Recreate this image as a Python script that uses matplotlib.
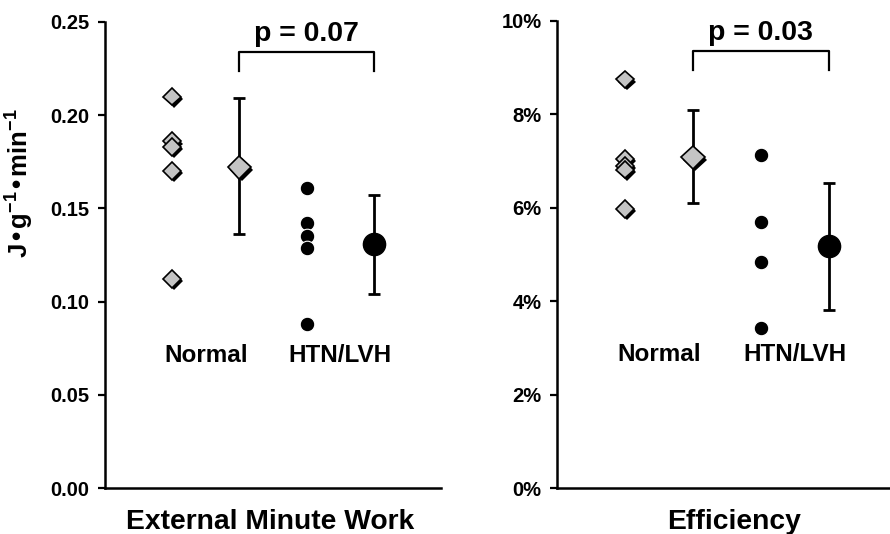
import matplotlib
matplotlib.use("Agg")
import matplotlib.pyplot as plt
import matplotlib.patheffects as pe
from matplotlib.ticker import PercentFormatter, MultipleLocator

plt.rcParams["font.family"] = ["Liberation Sans", "DejaVu Sans"]
plt.rcParams["font.weight"] = "bold"
plt.rcParams["mathtext.default"] = "regular"

# ---------------- data ----------------
grupos = ["Normal", "HTN/LVH"]

# External Minute Work (J/g/min)
emw_normal = [0.210, 0.186, 0.183, 0.170, 0.112]
emw_htn = [0.161, 0.142, 0.135, 0.129, 0.088]
emw_media = [0.172, 0.131]
emw_sup = [0.209, 0.157]
emw_inf = [0.136, 0.104]
emw_p = "p = 0.07"

# Efficiency (%)
ef_normal = [8.75, 7.05, 6.90, 6.82, 5.98]
ef_htn = [7.13, 5.69, 4.84, 4.84, 3.43]
ef_media = [7.08, 5.18]
ef_sup = [8.10, 6.53]
ef_inf = [6.10, 3.82]
ef_p = "p = 0.03"

GRIS = "#c4c4c4"
sombra = [pe.SimplePatchShadow(offset=(1.6, -1.6), shadow_rgbFace="black", alpha=1.0), pe.Normal()]


def panel(ax, normal, htn, media, sup, inf, p_txt, ymax, xmax):
    ax.set_xlim(0, xmax)
    ax.set_ylim(0, ymax)

    # individual points
    ax.plot([1] * len(normal), normal, "D", ms=9, mfc=GRIS, mec="black", mew=1.2,
            path_effects=sombra, zorder=3, clip_on=False)
    ax.plot([3] * len(htn), htn, "o", ms=10.5, mfc="black", mec="white", mew=0.8,
            zorder=3, clip_on=False)

    # mean +- sd
    for xi, m, s, i in zip([2, 4], media, sup, inf):
        ax.errorbar([xi], [m], yerr=[[m - i], [s - m]], fmt="none", ecolor="black",
                    elinewidth=2, capsize=4, capthick=2, zorder=2)
    ax.plot([2], [media[0]], "D", ms=12, mfc=GRIS, mec="black", mew=1.2,
            path_effects=sombra, zorder=4)
    ax.plot([4], [media[1]], "o", ms=16, mfc="black", mec="black", zorder=4)

    # group labels
    lab_y = 0.285 * ymax
    for xi, g in zip([1.5, 3.5], grupos):
        ax.text(xi, lab_y, g, ha="center", va="center", fontsize=17.5, fontweight="bold")

    # bracket + p value
    top = 0.935 * ymax
    leg = 0.895 * ymax
    ax.plot([2, 2, 4, 4], [leg, top, top, leg], color="black", lw=1.6, clip_on=False)
    ax.text(3, 0.975 * ymax, p_txt, ha="center", va="center", fontsize=20.5,
            fontweight="bold", clip_on=False)

    for s in ["top", "right"]:
        ax.spines[s].set_visible(False)
    for s in ["left", "bottom"]:
        ax.spines[s].set_linewidth(1.8)
    ax.set_xticks([])
    ax.tick_params(axis="y", direction="out", length=5, width=1.6, labelsize=14.5, pad=6)


fig = plt.figure(figsize=(8.9, 5.34), dpi=100)

ax1 = fig.add_axes([105 / 890, 1 - 488 / 534, (441 - 105) / 890, (488 - 22) / 534])
panel(ax1, emw_normal, emw_htn, emw_media, emw_sup, emw_inf, emw_p, 0.25, 5.0)
ax1.yaxis.set_major_locator(MultipleLocator(0.05))
ax1.yaxis.set_major_formatter(plt.FormatStrFormatter("%.2f"))
for t in ax1.get_yticklabels():
    t.set_fontweight("bold")

ax2 = fig.add_axes([557 / 890, 1 - 488 / 534, (890 - 557) / 890, (488 - 21) / 534])
panel(ax2, ef_normal, ef_htn, ef_media, ef_sup, ef_inf, ef_p, 10, 4.9)
ax2.yaxis.set_major_locator(MultipleLocator(2))
ax2.yaxis.set_major_formatter(PercentFormatter(decimals=0))
for t in ax2.get_yticklabels():
    t.set_fontweight("bold")

fig.text(20 / 890, 1 - 183 / 534, r"J•g$^{-1}$•min$^{-1}$", rotation=90, ha="center",
         va="center", fontsize=18.5, fontweight="bold")
fig.text(270 / 890, 1 - 522 / 534, "External Minute Work", ha="center", va="center",
         fontsize=20.3, fontweight="bold")
fig.text(734 / 890, 1 - 522 / 534, "Efficiency", ha="center", va="center",
         fontsize=20.3, fontweight="bold")

fig.savefig("out.png", dpi=100)
plt.close(fig)
